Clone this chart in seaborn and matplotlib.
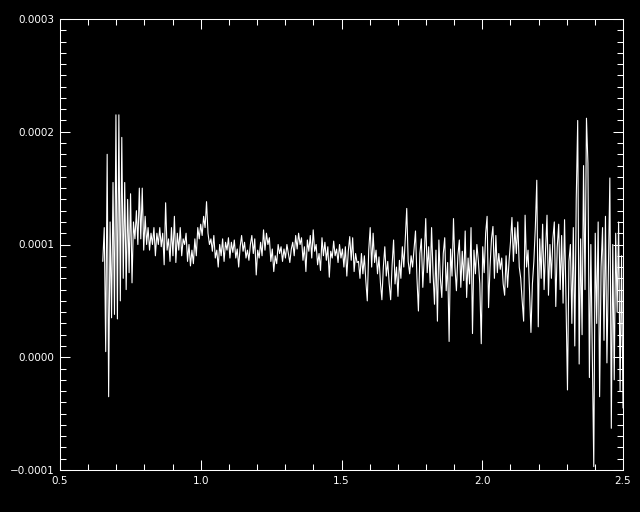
"""
Noisy spectrum in the IDL look: white trace on black, ticks pointing inward.
Values are read off the reference picture, in units of 1e-5.
"""

import numpy as np
import pandas as pd
import matplotlib
matplotlib.use("Agg")
import matplotlib.pyplot as plt
import seaborn as sns
from matplotlib.ticker import MultipleLocator, FuncFormatter

# ─────────────────────────────────────────────
# DATA (flux in units of 1e-5, evenly sampled in x)
# ─────────────────────────────────────────────
X_START, X_END = 0.652, 2.5
SCALE = 1e-5

# 0.65 – 1.10 : big scatter at the blue end, settling down to ~1e-4
SEG1 = [8.5, 11.5, 0.5, 18.0, -3.5, 12.0, 3.5, 15.5, 3.8, 21.5,
        3.4, 21.5, 5.0, 19.5, 7.0, 15.5, 6.0, 14.0, 7.5, 14.5,
        6.6, 12.0, 10.5, 13.0, 10.0, 15.0, 10.5, 15.0, 9.5, 12.5,
        10.0, 11.5, 9.5, 11.0, 10.0, 11.5, 9.0, 11.0, 10.0, 11.5,
        9.8, 11.0, 8.2, 13.7, 9.5, 10.5, 8.5, 11.5, 9.0, 12.5,
        8.4, 11.0, 9.5, 11.5, 9.0, 10.5, 10.0, 11.0, 8.5, 10.0,
        8.1, 9.5, 8.3, 10.5, 9.0, 11.5, 10.5, 11.8, 10.8, 12.5,
        11.5, 13.8, 11.0, 10.0, 10.5, 9.4, 10.8, 8.8, 9.5, 8.0,
        10.0, 9.0, 10.5, 8.5, 10.2]

# 1.10 – 1.57 : quiet stretch
SEG2 = [9.5, 10.6, 8.8, 10.2, 9.3, 10.4, 8.8, 9.6, 8.0, 9.8,
        10.8, 9.4, 10.2, 8.8, 9.5, 8.6, 10.0, 10.8, 9.2, 10.5,
        7.3, 9.5, 8.8, 10.2, 9.0, 11.3, 9.5, 11.0, 10.0, 10.6,
        8.5, 9.6, 7.6, 9.0, 8.3, 10.0, 9.2, 9.8, 8.5, 9.6,
        8.8, 10.0, 9.2, 8.4, 9.6, 10.2, 9.0, 10.8, 9.6, 11.0,
        10.0, 10.6, 8.6, 9.8, 7.6, 10.4, 9.4, 10.8, 8.8, 11.3,
        9.4, 10.0, 8.2, 9.2, 7.7, 10.6, 9.0, 10.2, 8.6, 9.8,
        7.1, 9.4, 8.8, 10.3, 9.0, 9.6, 8.4, 10.0, 8.8, 9.6,
        8.0, 9.8, 7.2, 9.4, 10.7, 8.6, 10.6, 7.6, 9.2, 8.4]

# 1.57 – 2.03 : scatter grows
SEG3 = [8.5, 7.0, 9.2, 7.4, 9.0, 6.8, 5.0, 9.5, 11.5, 8.0,
        11.0, 8.4, 9.5, 7.4, 8.9, 6.6, 5.1, 8.0, 9.8, 7.2,
        8.5, 6.5, 5.1, 8.2, 10.4, 6.5, 8.0, 5.4, 8.6, 7.0,
        9.8, 8.0, 10.5, 13.2, 8.5, 7.4, 9.0, 8.0, 9.6, 11.2,
        7.0, 4.1, 9.2, 10.5, 6.2, 9.0, 12.3, 7.5, 9.8, 6.6,
        11.5, 7.5, 4.7, 9.5, 3.2, 10.4, 7.0, 5.3, 9.2, 10.6,
        5.9, 8.4, 1.4, 9.6, 7.2, 12.3, 8.0, 5.9, 9.0, 10.4,
        6.2, 9.4, 6.8, 11.2, 5.3, 8.8, 6.5, 11.5, 2.1, 9.5,
        7.4, 10.0, 8.6, 6.5, 1.2, 9.8, 7.5, 11.0, 12.5, 4.4]

# 2.03 – 2.50 : very noisy red end
SEG4 = [8.0, 10.5, 11.6, 7.0, 10.8, 7.5, 9.2, 7.8, 8.8, 6.5,
        5.5, 9.0, 6.2, 8.5, 10.2, 12.4, 8.5, 11.5, 9.2, 12.0,
        8.0, 7.0, 5.0, 3.2, 12.6, 8.0, 9.5, 6.0, 2.2, 6.5,
        8.5, 11.5, 15.7, 2.7, 10.5, 7.0, 11.8, 6.0, 9.5, 12.6,
        5.5, 10.0, 7.0, 10.5, 12.0, 4.5, 9.8, 11.8, 6.0, 10.8,
        4.8, 12.2, 5.0, -2.9, 8.5, 10.0, 3.0, 11.5, 1.0, 14.0,
        21.0, -0.6, 10.5, 2.0, 17.0, 6.0, 21.2, 17.2, -1.8, 10.0,
        0.0, -9.7, 11.0, 3.0, 12.0, -3.5, 8.0, 11.5, 1.5, 12.5,
        -0.5, 7.5, 15.9, -6.3, 10.0, -2.0, 11.0, 4.0, 12.0, -3.0,
        9.0, -4.5]

flux = np.array(SEG1 + SEG2 + SEG3 + SEG4) * SCALE
wave = np.linspace(X_START, X_END, len(flux))
df = pd.DataFrame({"wave": wave, "flux": flux})

# ─────────────────────────────────────────────
# STYLE
# ─────────────────────────────────────────────
sns.set_theme(style="ticks", rc={
    "figure.facecolor": "black",
    "axes.facecolor": "black",
    "axes.edgecolor": "white",
    "text.color": "white",
    "xtick.color": "white",
    "ytick.color": "white",
    "xtick.direction": "in",
    "ytick.direction": "in",
    "xtick.top": True,
    "ytick.right": True,
})

fig = plt.figure(figsize=(6.4, 5.12), dpi=100)
ax = fig.add_axes([60 / 640, 1 - 470 / 512, 563 / 640, 451 / 512])

sns.lineplot(data=df, x="wave", y="flux", ax=ax, color="white",
             linewidth=0.8, estimator=None, sort=False)

ax.set_xlim(0.5, 2.5)
ax.set_ylim(-1e-4, 3e-4)
ax.set_xlabel("")
ax.set_ylabel("")

ax.xaxis.set_major_locator(MultipleLocator(0.5))
ax.xaxis.set_minor_locator(MultipleLocator(0.1))
ax.yaxis.set_major_locator(MultipleLocator(1e-4))
ax.yaxis.set_minor_locator(MultipleLocator(1e-5))
ax.xaxis.set_major_formatter(FuncFormatter(lambda v, _: f"{v:.1f}"))
ax.yaxis.set_major_formatter(
    FuncFormatter(lambda v, _: f"{v:.4f}".replace("-", "\u2212")))

ax.tick_params(which="major", length=7.5, width=0.75, labelsize=7.5, pad=4)
ax.tick_params(which="minor", length=4, width=0.75)
for sp in ax.spines.values():
    sp.set_linewidth(0.75)
    sp.set_color("white")

fig.savefig("out.png", dpi=100, facecolor="black")
